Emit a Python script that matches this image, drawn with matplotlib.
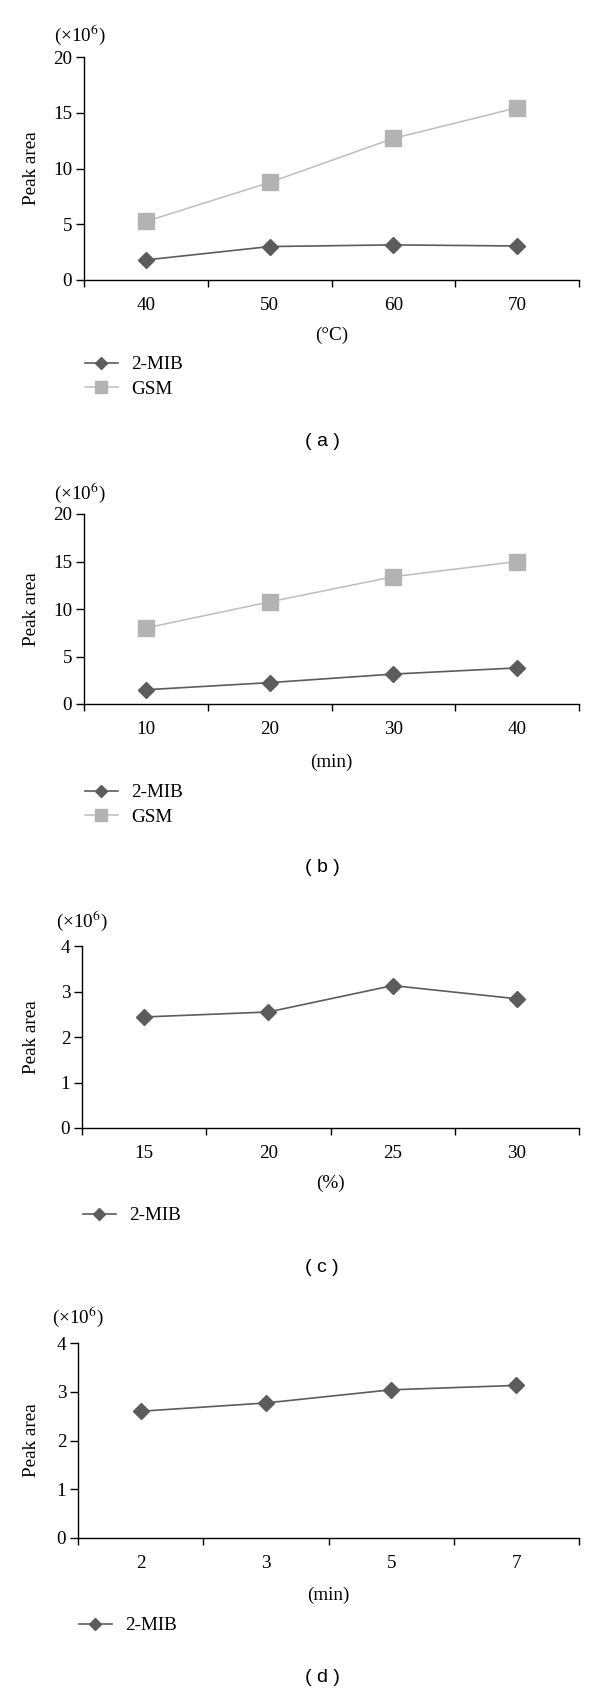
import matplotlib
matplotlib.use("Agg")  # headless
import matplotlib.pyplot as plt

# --- data (values in units of 10^6) ---
temp_labels = ["40", "50", "60", "70"]
temp_mib = [1.8, 3.0, 3.15, 3.05]
temp_gsm = [5.25, 8.75, 12.7, 15.45]

time_labels = ["10", "20", "30", "40"]
time_mib = [1.5, 2.25, 3.15, 3.8]
time_gsm = [8.0, 10.75, 13.4, 15.0]

salt_labels = ["15", "20", "25", "30"]
salt_mib = [2.44, 2.55, 3.13, 2.84]

desorb_labels = ["2", "3", "5", "7"]
desorb_mib = [2.6, 2.77, 3.04, 3.13]

plt.rcParams["font.family"] = ["Liberation Serif", "DejaVu Serif"]
plt.rcParams["mathtext.fontset"] = "stix"

W, H = 600, 1691
fig = plt.figure(figsize=(W / 100, H / 100), dpi=100)

MIB_C = "#5c5c5c"
GSM_C = "#b3b3b3"
FS = 13.8


def fx(px):
    return px / W


def fy(py):
    return 1 - py / H


def panel(box, labels, series, yticks, xlabel, letter, scale_xy, leg_y, cap_y):
    left, right, top, bottom = box
    ax = fig.add_axes([fx(left), fy(bottom), fx(right - left), (bottom - top) / H])
    x = list(range(len(labels)))
    handles = []
    for name, vals in series:
        if name == "2-MIB":
            h, = ax.plot(x, vals, color=MIB_C, lw=1.2, marker="D", ms=8,
                         mfc=MIB_C, mec=MIB_C, clip_on=False, zorder=3, label=name)
        else:
            h, = ax.plot(x, vals, color="#bdbdbd", lw=1.1, marker="s", ms=11.5,
                         mfc=GSM_C, mec=GSM_C, clip_on=False, zorder=2, label=name)
        handles.append(h)
    ax.set_xlim(-0.5, len(labels) - 0.5)
    ax.set_ylim(yticks[0], yticks[-1])
    ax.set_yticks(yticks)
    ax.set_xticks(x)
    ax.set_xticklabels(labels)
    ax.set_xticks([i - 0.5 for i in range(len(labels) + 1)], minor=True)
    ax.tick_params(axis="x", which="major", length=0, pad=12, labelsize=FS)
    ax.tick_params(axis="x", which="minor", length=5, width=1, direction="out")
    ax.tick_params(axis="y", length=5.5, width=1, pad=3, labelsize=FS, direction="out")
    for s in ("top", "right"):
        ax.spines[s].set_visible(False)
    for s in ("left", "bottom"):
        ax.spines[s].set_linewidth(1)
    # ( x10^6 ) unit note above the y axis
    fig.text(fx(scale_xy[0]), fy(scale_xy[1]), "(×10$^{6}$)", fontsize=FS,
             ha="left", va="center")
    fig.text(fx(31), fy((top + bottom) / 2), "Peak area", fontsize=FS,
             rotation=90, ha="center", va="center")
    fig.text(fx((left + right) / 2), fy(xlabel[1]), xlabel[0], fontsize=FS,
             ha="center", va="center")
    ax.legend(handles=handles, loc="upper left",
              bbox_to_anchor=(fx(left + 1), fy(leg_y)),
              bbox_transform=fig.transFigure, frameon=False,
              fontsize=FS, handlelength=1.7, handletextpad=0.7,
              labelspacing=0.35, borderpad=0, borderaxespad=0,
              markerscale=0.72)
    fig.text(fx(322), fy(cap_y), "( %s )" % letter, fontsize=14,
             family=["Liberation Sans", "DejaVu Sans"], ha="center", va="center")
    return ax


panel((84, 579, 57, 280), temp_labels,
      [("2-MIB", temp_mib), ("GSM", temp_gsm)], [0, 5, 10, 15, 20],
      ("(°C)", 335), "a", (54, 35), 356, 442)

panel((84, 579, 514, 704), time_labels,
      [("2-MIB", time_mib), ("GSM", time_gsm)], [0, 5, 10, 15, 20],
      ("(min)", 762), "b", (54, 493), 784, 868)

panel((82, 579, 946, 1128), salt_labels,
      [("2-MIB", salt_mib)], [0, 1, 2, 3, 4],
      ("(%)", 1183), "c", (56, 921), 1207, 1267)

panel((78, 579, 1343, 1538), desorb_labels,
      [("2-MIB", desorb_mib)], [0, 1, 2, 3, 4],
      ("(min)", 1595), "d", (52, 1317), 1617, 1677)

fig.savefig("out.png", dpi=100)
plt.close(fig)
